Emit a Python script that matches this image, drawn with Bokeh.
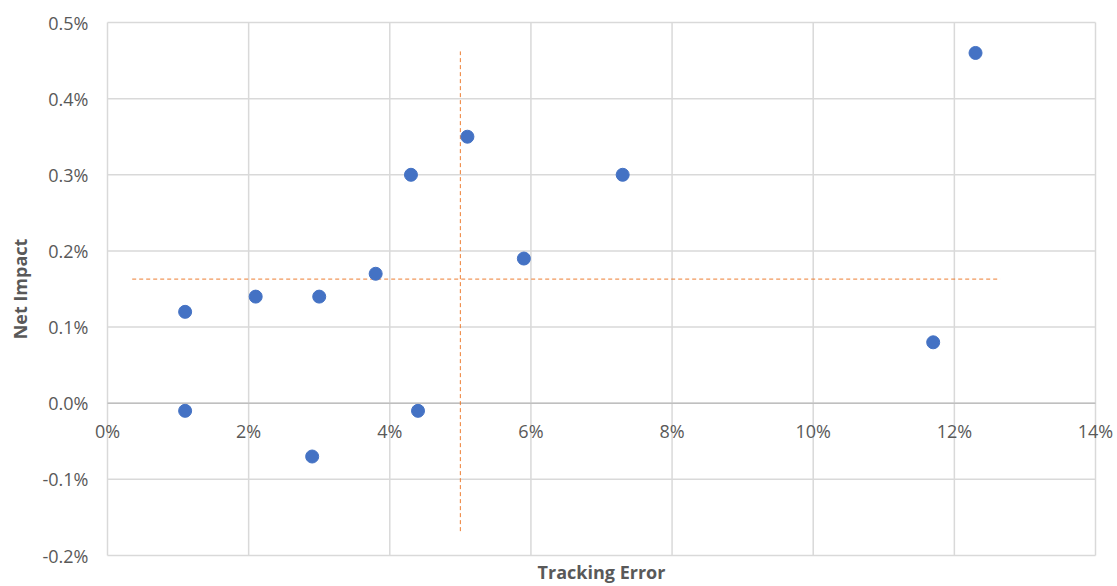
import math
from bokeh.plotting import figure
from bokeh.models import ColumnDataSource
from bokeh.core.properties import value
from bokeh.embed import file_html
from bokeh.resources import INLINE

# Data (values in percent)
tracking_error = [1.1, 1.1, 2.1, 2.9, 3.0, 3.8, 4.3, 4.4, 5.1, 5.9, 7.3, 11.7, 12.3]
net_impact = [0.12, -0.01, 0.14, -0.07, 0.14, 0.17, 0.30, -0.01, 0.35, 0.19, 0.30, 0.08, 0.46]

# Average reference lines
avg_x = 5.0
avg_x_span = [-0.168, 0.462]
avg_y = 0.163
avg_y_span = [0.35, 12.65]

x_ticks = [0, 2, 4, 6, 8, 10, 12, 14]
x_tick_labels = ["0%", "2%", "4%", "6%", "8%", "10%", "12%", "14%"]
y_ticks = [-0.2, -0.1, 0.0, 0.1, 0.2, 0.3, 0.4, 0.5]
y_tick_labels = ["-0.2%", "-0.1%", "0.0%", "0.1%", "0.2%", "0.3%", "0.4%", "0.5%"]
x_title = "Tracking Error"
y_title = "Net Impact"

FONT = "Open Sans"
TXT = "#595959"
GRID = "#d9d9d9"
AXIS = "#bfbfbf"

# Plot-area geometry in pixels (frame covers whole figure so that tick labels are not clipped)
W, H = 1116, 585
left_px, right_px, top_px, bottom_px = 107, 1095, 22, 555
xmin, xmax = x_ticks[0], x_ticks[-1]
ymin, ymax = y_ticks[0], y_ticks[-1]
sx = (right_px - left_px) / (xmax - xmin)
sy = (bottom_px - top_px) / (ymax - ymin)
x_range = (xmin - left_px / sx, xmax + (W - right_px) / sx)
y_range = (ymin - (H - bottom_px) / sy, ymax + top_px / sy)

p = figure(width=W, height=H, x_range=x_range, y_range=y_range,
           output_backend="svg", toolbar_location=None,
           x_axis_location=None, y_axis_location=None, min_border=0)
p.outline_line_color = None
p.grid.visible = False

# gridlines over the plot area
p.segment(x0=x_ticks, y0=[ymin] * len(x_ticks), x1=x_ticks, y1=[ymax] * len(x_ticks),
          line_color=GRID, line_width=1.5)
p.segment(x0=[xmin] * len(y_ticks), y0=y_ticks, x1=[xmax] * len(y_ticks), y1=y_ticks,
          line_color=GRID, line_width=1.5)
# horizontal axis line at zero
p.segment(x0=[xmin], y0=[0], x1=[xmax], y1=[0], line_color=AXIS, line_width=1.5)

# tick labels
xs = ColumnDataSource(dict(x=x_ticks, y=[0] * len(x_ticks), t=x_tick_labels))
p.text(x="x", y="y", text="t", source=xs, text_align="center", text_baseline="middle",
       y_offset=28, text_font=value(FONT), text_font_size="18px", text_color=TXT)
ys = ColumnDataSource(dict(x=[xmin] * len(y_ticks), y=y_ticks, t=y_tick_labels))
p.text(x="x", y="y", text="t", source=ys, text_align="right", text_baseline="middle",
       x_offset=-19, text_font=value(FONT), text_font_size="18px", text_color=TXT)

# axis titles
p.text(x=[(xmin + xmax) / 2], y=[ymin], text=[x_title], text_align="center",
       text_baseline="middle", y_offset=16, text_font=value(FONT), text_font_size="18px",
       text_font_style="bold", text_color=TXT)
p.text(x=[xmin], y=[(ymin + ymax) / 2], text=[y_title], text_align="center",
       text_baseline="middle", x_offset=-88, angle=math.pi / 2, text_font=value(FONT),
       text_font_size="18px", text_font_style="bold", text_color=TXT)

# average dashed lines
p.line(x=[avg_x, avg_x], y=avg_x_span, line_color="#ED7D31", line_width=1, line_dash="4 3")
p.line(x=avg_y_span, y=[avg_y, avg_y], line_color="#ED7D31", line_width=1, line_dash="4 3")

# points
p.scatter(x=tracking_error, y=net_impact, size=13, fill_color="#4472C4", line_color="#4472C4")

open("out.html", "w").write(file_html(p, INLINE))
